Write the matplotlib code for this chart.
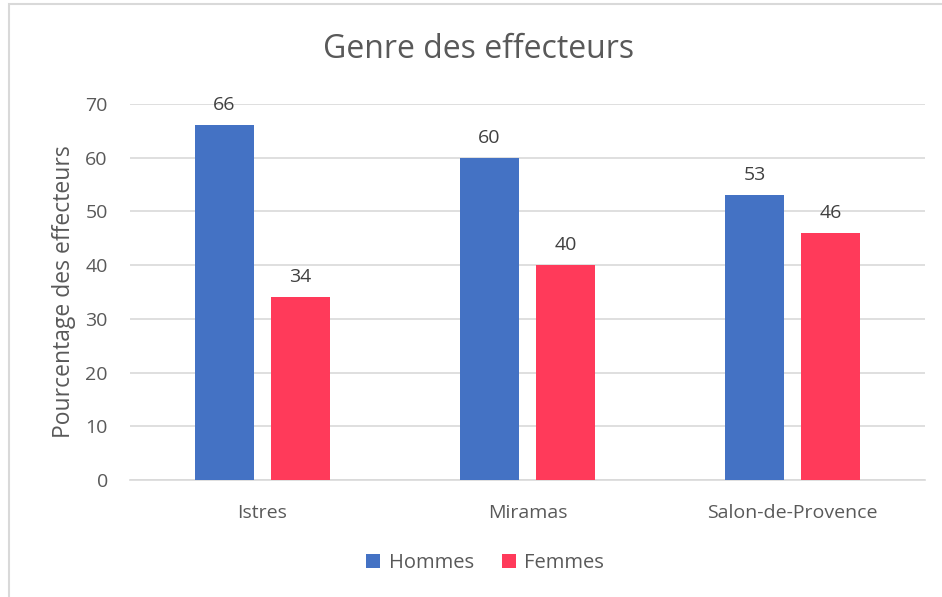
import numpy as np
import matplotlib.pyplot as plt
from matplotlib.patches import Rectangle

# data
villes = ['Istres', 'Miramas', 'Salon-de-Provence']
hommes = [66, 60, 53]
femmes = [34, 40, 46]
yticks = [0, 10, 20, 30, 40, 50, 60, 70]

txt = '#595959'
grid = '#d9d9d9'
c_h = '#4472C4'
c_f = '#FF3A5A'

plt.rcParams['font.family'] = ['Open Sans', 'DejaVu Sans']

fig = plt.figure(figsize=(9.42, 5.97), dpi=100)
ax = fig.add_axes([130/942, 1-480/597, 795/942, 376/597])

# chart frame (only left/top visible in the reference)
fig.patches.append(Rectangle((9/942, -0.1), 1.2, 1-4/597+0.1, transform=fig.transFigure,
                             fill=False, edgecolor=grid, linewidth=1.5))

x = np.arange(len(villes))
w = 0.225
off = 0.1434
b1 = ax.bar(x-off, hommes, w, color=c_h, label='Hommes', zorder=3)
b2 = ax.bar(x+off, femmes, w, color=c_f, label='Femmes', zorder=3)

for bars in (b1, b2):
    for r in bars:
        ax.annotate(str(int(r.get_height())), (r.get_x()+r.get_width()/2, r.get_height()),
                    xytext=(0, 8), textcoords='offset points', ha='center', va='bottom',
                    fontsize=14, color='#404040')

ax.set_xlim(-0.5, 2.5)
ax.set_ylim(0, 70)
ax.set_yticks(yticks)
ax.set_xticks(x)
ax.set_xticklabels(villes)
ax.yaxis.grid(True, color=grid, linewidth=1.2, zorder=0)
ax.tick_params(axis='both', length=0, labelsize=14, labelcolor=txt)
ax.tick_params(axis='x', pad=17)
ax.tick_params(axis='y', pad=16)
for s in ['top', 'right', 'left']:
    ax.spines[s].set_visible(False)
ax.spines['bottom'].set_color(grid)
ax.spines['bottom'].set_linewidth(1.2)

ax.set_ylabel('Pourcentage des effecteurs', fontsize=16.5, color=txt, labelpad=7)
fig.text(0.508, 1-50/597, 'Genre des effecteurs', ha='center', va='center',
         fontsize=23, color=txt)

fig.legend(loc='center', bbox_to_anchor=(0.515, 1-563/597), ncol=2, frameon=False,
           fontsize=14.5, labelcolor=txt, handlelength=0.7, handleheight=0.7,
           handletextpad=0.4, columnspacing=1.4)

fig.savefig('out.png', dpi=100)
